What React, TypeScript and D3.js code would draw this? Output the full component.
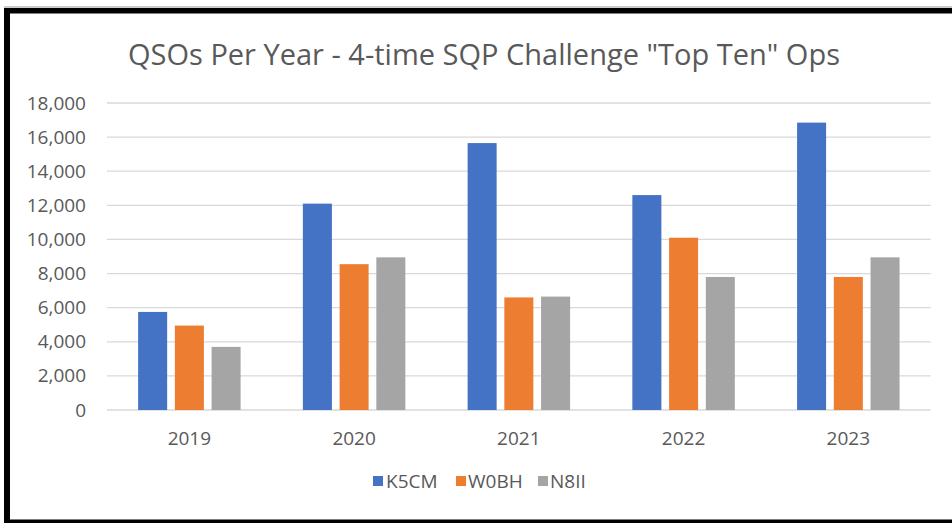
import React from "react";
import * as d3 from "d3";

const years = ["2019", "2020", "2021", "2022", "2023"];
const seriesNames = ["K5CM", "W0BH", "N8II"];
const k5cm = [5750, 12100, 15650, 12600, 16850];
const w0bh = [4950, 8550, 6600, 10100, 7800];
const n8ii = [3700, 8950, 6650, 7800, 8950];
const yTicks = [0, 2000, 4000, 6000, 8000, 10000, 12000, 14000, 16000, 18000];
const colors = ["#4472C4", "#ED7D31", "#A5A5A5"];
const title = 'QSOs Per Year - 4-time SQP Challenge "Top Ten" Ops';

const W = 952;
const H = 523;
const FONT = "'Open Sans', 'Liberation Sans', sans-serif";

export default function App() {
  const values = [k5cm, w0bh, n8ii];
  const plotL = 107;
  const plotR = 930.7;
  const plotT = 103;
  const plotB = 410;

  const x0 = d3.scaleBand<string>().domain(years).range([plotL, plotR]).paddingInner(0).paddingOuter(0);
  const groupW = x0.bandwidth() * 0.622;
  const groupOff = (x0.bandwidth() - groupW) / 2;
  const x1 = d3.scaleBand<string>().domain(seriesNames).range([0, groupW]).paddingInner(0.21).paddingOuter(0);
  const y = d3.scaleLinear().domain([0, 18000]).range([plotB, plotT]);
  const fmt = d3.format(",");

  const legendItems = [
    { name: seriesNames[0], sq: 373, tx: 386 },
    { name: seriesNames[1], sq: 456, tx: 468 },
    { name: seriesNames[2], sq: 538, tx: 550 },
  ];

  return (
    <svg
      width={W}
      height={H}
      style={{ position: "absolute", left: 0, top: 0, background: "#fff" }}
      fontFamily={FONT}
    >
      <rect x={0} y={0} width={W} height={H} fill="#ffffff" />
      {/* frame */}
      <rect x={4} y={6.5} width={W - 4} height={1} fill="#9a9a9a" />
      <rect x={4} y={8} width={W - 4} height={5.5} fill="#000" />
      <rect x={4} y={8} width={6} height={H - 8} fill="#000" />
      <rect x={4} y={519.5} width={W - 4} height={3.5} fill="#000" />

      <text x={484} y={65} textAnchor="middle" fontSize={29} fill="#595959">
        {title}
      </text>

      {yTicks.map((t) => (
        <g key={t}>
          <line x1={plotL} x2={plotR} y1={y(t)} y2={y(t)} stroke="#D9D9D9" strokeWidth={1.3} />
          <text x={86} y={y(t) + 6.5} textAnchor="end" fontSize={19} fill="#595959">
            {fmt(t)}
          </text>
        </g>
      ))}

      {years.map((yr, i) => (
        <g key={yr}>
          {seriesNames.map((s, j) => {
            const v = values[j][i];
            const bx = (x0(yr) as number) + groupOff + (x1(s) as number);
            return (
              <rect
                key={s}
                x={bx}
                y={y(v)}
                width={x1.bandwidth()}
                height={plotB - y(v)}
                fill={colors[j]}
              />
            );
          })}
          <text
            x={(x0(yr) as number) + x0.bandwidth() / 2}
            y={445}
            textAnchor="middle"
            fontSize={19}
            fill="#595959"
          >
            {yr}
          </text>
        </g>
      ))}

      {legendItems.map((it, j) => (
        <g key={it.name}>
          <rect x={it.sq} y={476} width={10} height={10} fill={colors[j]} />
          <text x={it.tx} y={487.5} fontSize={19} fill="#595959">
            {it.name}
          </text>
        </g>
      ))}
    </svg>
  );
}
